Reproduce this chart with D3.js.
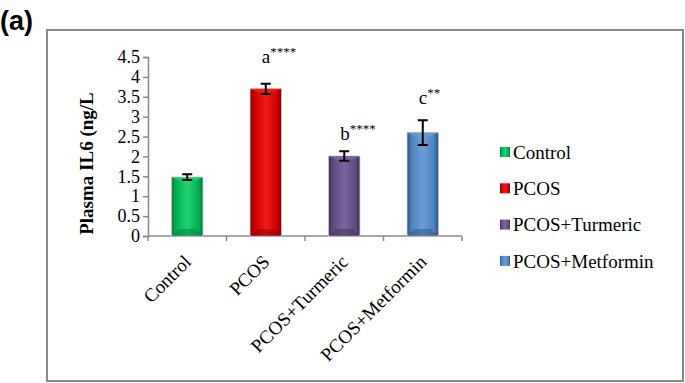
<!DOCTYPE html>
<html lang="en">
<head>
  <meta charset="UTF-8">
  <title>plasma-il6-chart</title>
  <script src="https://cdn.jsdelivr.net/npm/d3@7"></script>
  <style>
    body { margin: 0; background: #fff; }
  </style>
</head>
<body>
<script>
// data
let groups = ['Control', 'PCOS', 'PCOS+Turmeric', 'PCOS+Metformin'];
let means = [1.48, 3.70, 2.01, 2.60];
let errors = [0.07, 0.13, 0.12, 0.31];
let marks = ['', 'a', 'b', 'c'];
let stars = ['', '****', '****', '**'];
let markLevels = [0, 4.35, 2.41, 3.32];
let yTicks = [0, 0.5, 1, 1.5, 2, 2.5, 3, 3.5, 4, 4.5];

// base / light / dark shades per group
let baseColors = ['#00b050', '#cc0000', '#604a7b', '#4f81bd'];
let lightColors = ['#22d272', '#f01a1a', '#7c64a0', '#6c9cd8'];
let darkColors = ['#00783a', '#880000', '#3e2f52', '#2d4f78'];

let serif = "'Liberation Serif', 'Times New Roman', serif";
let width = 685;
let height = 383;
let margins = {top: 57, left: 148, right: 223, bottom: 147};

let svg = d3.select('body')
  .append('svg')
  .attr('width', width)
  .attr('height', height)
  .style('font-family', serif);

// outer frame
svg.append('rect')
  .attr('x', 47)
  .attr('y', 30)
  .attr('width', 636)
  .attr('height', 351)
  .attr('fill', 'none')
  .attr('stroke', '#8a8a8a')
  .attr('stroke-width', 2);

svg.append('text')
  .attr('x', 0)
  .attr('y', 30)
  .style('font-family', "'Liberation Sans', Arial, sans-serif")
  .style('font-weight', 'bold')
  .style('font-size', '27px')
  .text('(a)');

let x = d3.scaleBand()
  .domain(groups)
  .range([margins.left, width - margins.right])
  .paddingInner(0.6)
  .paddingOuter(0.3);

let y = d3.scaleLinear()
  .domain([0, 4.5])
  .range([height - margins.bottom, margins.top]);

// gradients for the bevelled bars
let defs = svg.append('defs');
groups.forEach(function (g, i) {
  let grad = defs.append('linearGradient')
    .attr('id', 'grad' + i)
    .attr('x1', '0%').attr('x2', '100%')
    .attr('y1', '0%').attr('y2', '0%');
  grad.append('stop').attr('offset', '0%').attr('stop-color', darkColors[i]);
  grad.append('stop').attr('offset', '14%').attr('stop-color', baseColors[i]);
  grad.append('stop').attr('offset', '50%').attr('stop-color', lightColors[i]);
  grad.append('stop').attr('offset', '86%').attr('stop-color', baseColors[i]);
  grad.append('stop').attr('offset', '100%').attr('stop-color', darkColors[i]);
});

// axes
let axisColor = '#8a8a8a';
let yAxis = d3.axisLeft(y)
  .tickValues(yTicks)
  .tickSize(5)
  .tickPadding(3)
  .tickFormat(d3.format('~g'));

let yG = svg.append('g')
  .attr('transform', 'translate(' + margins.left + ',0)')
  .call(yAxis)
  .attr('font-family', serif)
  .attr('font-size', 18);
yG.select('.domain').attr('stroke', axisColor).attr('stroke-width', 1.5);
yG.selectAll('.tick line').attr('stroke', axisColor).attr('stroke-width', 1.5);
yG.selectAll('.tick text')
  .style('font-family', serif)
  .style('font-size', '18px')
  .attr('fill', '#000');

// x axis line with ticks at band boundaries
let step = x.step();
let xBounds = groups.map(function (g) { return x(g) + x.bandwidth() / 2 - step / 2; });
xBounds.push(width - margins.right);

svg.append('line')
  .attr('x1', margins.left)
  .attr('x2', width - margins.right)
  .attr('y1', y(0))
  .attr('y2', y(0))
  .attr('stroke', axisColor)
  .attr('stroke-width', 1.5);

svg.selectAll('line.xtick')
  .data(xBounds)
  .enter()
  .append('line')
  .attr('class', 'xtick')
  .attr('x1', function (d) { return d; })
  .attr('x2', function (d) { return d; })
  .attr('y1', y(0))
  .attr('y2', y(0) + 5)
  .attr('stroke', axisColor)
  .attr('stroke-width', 1.5);

// bars
let bars = svg.selectAll('g.bar')
  .data(groups)
  .enter()
  .append('g')
  .attr('class', 'bar');

bars.append('rect')
  .attr('x', function (d) { return x(d); })
  .attr('y', function (d, i) { return y(means[i]); })
  .attr('width', x.bandwidth())
  .attr('height', function (d, i) { return y(0) - y(means[i]); })
  .attr('fill', function (d, i) { return 'url(#grad' + i + ')'; })
  .attr('stroke', '#c8c8c8')
  .attr('stroke-width', 0.8);

// top highlight bevel
bars.append('path')
  .attr('d', function (d, i) {
    let x0 = x(d), w = x.bandwidth(), t = y(means[i]), b = 7;
    return 'M' + x0 + ',' + t + 'L' + (x0 + w) + ',' + t +
      'L' + (x0 + w / 2) + ',' + (t + b) + 'Z';
  })
  .attr('fill', function (d, i) { return lightColors[i]; })
  .attr('opacity', 0.8);

// bottom shade bevel
bars.append('path')
  .attr('d', function (d, i) {
    let x0 = x(d), w = x.bandwidth(), bt = y(0), b = 7;
    return 'M' + (x0 + 1) + ',' + bt + 'L' + (x0 + w - 1) + ',' + bt +
      'L' + (x0 + w - b) + ',' + (bt - b) + 'L' + (x0 + b) + ',' + (bt - b) + 'Z';
  })
  .attr('fill', function (d, i) { return darkColors[i]; })
  .attr('opacity', 0.45);

// error bars
let cap = 5;
bars.append('path')
  .attr('d', function (d, i) {
    let cx = x(d) + x.bandwidth() / 2;
    let hi = y(means[i] + errors[i]);
    let lo = y(means[i] - errors[i]);
    return 'M' + cx + ',' + hi + 'L' + cx + ',' + lo +
      'M' + (cx - cap) + ',' + hi + 'L' + (cx + cap) + ',' + hi +
      'M' + (cx - cap) + ',' + lo + 'L' + (cx + cap) + ',' + lo;
  })
  .attr('fill', 'none')
  .attr('stroke', '#000')
  .attr('stroke-width', 2);

// significance letters
groups.forEach(function (g, i) {
  if (!marks[i]) return;
  let t = svg.append('text')
    .attr('x', x(g) + x.bandwidth() / 2 - 4)
    .attr('y', y(markLevels[i]))
    .style('font-family', serif)
    .style('font-size', '19px');
  t.append('tspan').text(marks[i]);
  t.append('tspan')
    .attr('dy', -7)
    .style('font-size', '13px')
    .text(stars[i]);
});

// x labels
svg.selectAll('text.xlabel')
  .data(groups)
  .enter()
  .append('text')
  .attr('class', 'xlabel')
  .attr('text-anchor', 'end')
  .attr('transform', function (d) {
    return 'translate(' + (x(d) + x.bandwidth() / 2 + 5) + ',' + (y(0) + 27) + ') rotate(-45)';
  })
  .style('font-family', serif)
  .style('font-size', '19px')
  .text(function (d) { return d; });

// y title
svg.append('text')
  .attr('text-anchor', 'middle')
  .attr('transform', 'translate(93,' + ((y(0) + y(4.5)) / 2 + 17) + ') rotate(-90)')
  .style('font-family', serif)
  .style('font-size', '19px')
  .style('font-weight', 'bold')
  .text('Plasma IL6 (ng/L');

// legend
let legend = svg.selectAll('g.legend')
  .data(groups)
  .enter()
  .append('g')
  .attr('class', 'legend')
  .attr('transform', function (d, i) { return 'translate(500,' + (152 + i * 36.3) + ')'; });

legend.append('rect')
  .attr('x', 0)
  .attr('y', -5)
  .attr('width', 10)
  .attr('height', 10)
  .attr('fill', function (d, i) { return 'url(#grad' + i + ')'; });

legend.append('text')
  .attr('x', 13)
  .attr('y', 0)
  .attr('dy', '0.35em')
  .style('font-family', serif)
  .style('font-size', '19px')
  .text(function (d) { return d; });
</script>
</body>
</html>
